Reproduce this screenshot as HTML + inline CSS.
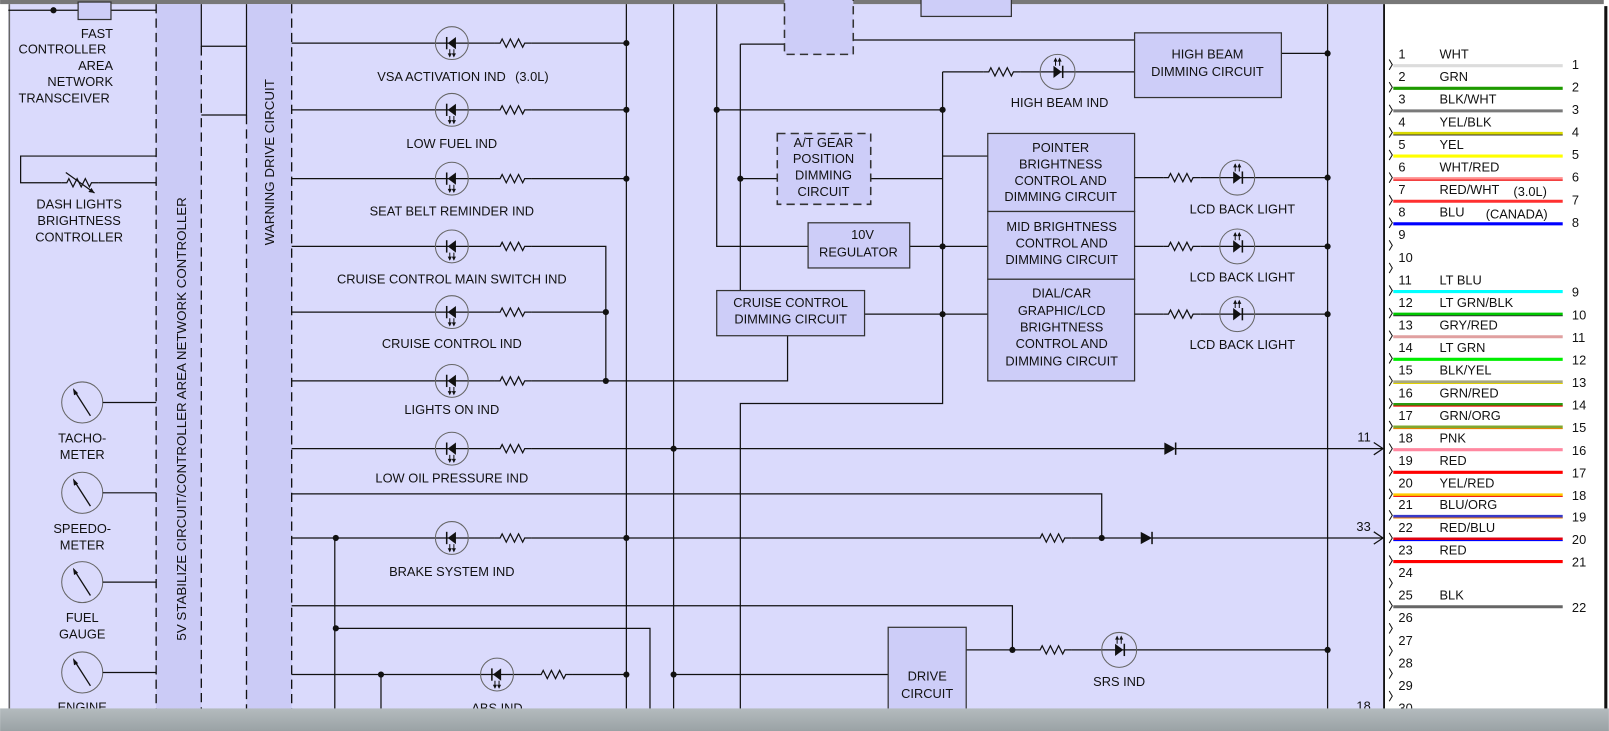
<!DOCTYPE html>
<html><head><meta charset="utf-8"><style>
html,body{margin:0;padding:0;width:1609px;height:731px;overflow:hidden;background:#fff}
svg{display:block}
text{font-family:"Liberation Sans",Arial,sans-serif;font-size:12.5px;fill:#111}
.c{text-anchor:middle}
.e{text-anchor:end}
.l{stroke:#111;stroke-width:1.2;fill:none}
.g{stroke:#555;stroke-width:1.6;fill:none}
.bx{fill:#cdcdf8;stroke:#333;stroke-width:1.2}
.dbx{fill:#cdcdf8;stroke:#333;stroke-width:1.5;stroke-dasharray:8,5}
.dl{stroke:#111;stroke-width:1.3;stroke-dasharray:9,5;fill:none}
</style></head><body>
<svg width="1609" height="731" viewBox="0 0 1567 712" xmlns="http://www.w3.org/2000/svg">
<defs>
<polyline id="R" points="0,0 5,0 7,-4 11,4 15,-4 19,4 23,-4 27,4 29,0 36,0" fill="none" stroke="#111" stroke-width="1.2"/>
<g id="LL"><circle r="16" fill="none" stroke="#666" stroke-width="1"/><polygon points="-4,0 4,-6 4,6" fill="#111"/><line x1="-5" y1="-6" x2="-5" y2="6" stroke="#111" stroke-width="1.5"/><path d="M-2,6V13M2,6V13" stroke="#111" stroke-width="1"/><path d="M-4,10L-2,14L0,10ZM0,10L2,14L4,10Z" fill="#111"/></g>
<g id="LR"><circle r="17" fill="none" stroke="#666" stroke-width="1"/><polygon points="4,0 -4,-6 -4,6" fill="#111"/><line x1="5" y1="-6" x2="5" y2="6" stroke="#111" stroke-width="1.5"/><path d="M-2,-6V-13M2,-6V-13" stroke="#111" stroke-width="1"/><path d="M-4,-10L-2,-14L0,-10ZM0,-10L2,-14L4,-10Z" fill="#111"/></g>
<g id="D"><polygon points="0,-6 11,0 0,6" fill="#111"/><line x1="11" y1="-6" x2="11" y2="6" stroke="#111" stroke-width="1.5"/></g>
<g id="G"><circle r="20" fill="none" stroke="#666" stroke-width="1"/><line x1="-8" y1="-12" x2="8" y2="13" stroke="#111" stroke-width="1.3"/><polygon points="-9,-14 -4,-9 -8,-7" fill="#111"/></g>
</defs>
<rect x="0" y="0" width="1567" height="712" fill="#fff"/>
<rect x="8" y="4" width="1340" height="690" fill="#dadafc"/>
<rect x="0" y="0" width="1562" height="4" fill="#787878"/>
<line x1="9" y1="4" x2="9" y2="694" stroke="#666" stroke-width="1.5"/>
<rect x="152" y="4" width="44" height="690" fill="#cbcbf6"/>
<rect x="240" y="4" width="44" height="690" fill="#cbcbf6"/>
<path class="dl" d="M152,4V694M196,45V694M240,112V694M284,4V694"/>
<path class="l" d="M196,4V45H240M196,112H240M240,4V112"/>
<text transform="translate(181,408) rotate(-90)" class="c" style="font-size:13px">5V STABILIZE CIRCUIT/CONTROLLER AREA NETWORK CONTROLLER</text>
<text transform="translate(267,158) rotate(-90)" class="c" style="font-size:13px">WARNING DRIVE CIRCUIT</text>
<!-- left area -->
<path class="l" d="M8,10H76M108,10H152"/><circle cx="52" cy="10" r="3" fill="#111"/>
<rect class="bx" x="76" y="2" width="32" height="17"/>
<text x="110" y="37" class="e">FAST</text><text x="18" y="52">CONTROLLER</text><text x="110" y="68" class="e">AREA</text><text x="110" y="84" class="e">NETWORK</text><text x="18" y="100">TRANSCEIVER</text>
<path class="l" d="M152,152H20V178H60M96,178H152"/><use href="#R" x="60" y="178"/><path class="l" d="M64,168L92,188"/><polygon points="92,188 86,187 89,183" fill="#111"/>
<text x="77" y="203" class="c">DASH LIGHTS</text><text x="77" y="219" class="c">BRIGHTNESS</text><text x="77" y="235" class="c">CONTROLLER</text>
<use href="#G" x="80" y="392"/><use href="#G" x="80" y="480"/><use href="#G" x="80" y="567"/><use href="#G" x="80" y="655"/>
<path class="l" d="M100,392H152M100,480H152M100,567H152M100,655H152"/>
<text x="80" y="431" class="c">TACHO-</text><text x="80" y="447" class="c">METER</text>
<text x="80" y="519" class="c">SPEEDO-</text><text x="80" y="535" class="c">METER</text>
<text x="80" y="606" class="c">FUEL</text><text x="80" y="622" class="c">GAUGE</text>
<text x="80" y="693" class="c">ENGINE</text>
<!-- indicator rows -->
<path class="l" d="M284,42H482M518,42H610M284,107H482M518,107H610M284,174H482M518,174H610M284,240H482M518,240H590V371M284,304H482M518,304H590M284,371H482M518,371H767V327M284,437H482M518,437H1134M1145,437H1346M284,481H1073V524M284,524H482M518,524H1008M1044,524H1111M1122,524H1346M284,590H986V633M327,612H633V694M326,524V694M284,657H522M558,657H610M371,657V694M656,657H865"/>
<use href="#R" x="482" y="42"/><use href="#R" x="482" y="107"/><use href="#R" x="482" y="174"/><use href="#R" x="482" y="240"/><use href="#R" x="482" y="304"/><use href="#R" x="482" y="371"/><use href="#R" x="482" y="437"/><use href="#R" x="482" y="524"/><use href="#R" x="522" y="657"/>
<use href="#LL" x="440" y="42"/><use href="#LL" x="440" y="107"/><use href="#LL" x="440" y="174"/><use href="#LL" x="440" y="240"/><use href="#LL" x="440" y="304"/><use href="#LL" x="440" y="371"/><use href="#LL" x="440" y="437"/><use href="#LL" x="440" y="524"/><use href="#LL" x="484" y="657"/>
<text x="430" y="79" class="c">VSA ACTIVATION IND</text><text x="518" y="79" class="c">(3.0L)</text>
<text x="440" y="144" class="c">LOW FUEL IND</text>
<text x="440" y="210" class="c">SEAT BELT REMINDER IND</text>
<text x="440" y="276" class="c">CRUISE CONTROL MAIN SWITCH IND</text>
<text x="440" y="339" class="c">CRUISE CONTROL IND</text>
<text x="440" y="403" class="c">LIGHTS ON IND</text>
<text x="440" y="470" class="c">LOW OIL PRESSURE IND</text>
<text x="440" y="561" class="c">BRAKE SYSTEM IND</text>
<text x="484" y="694" class="c">ABS IND</text>
<use href="#D" x="1134" y="437"/><use href="#D" x="1111" y="524"/><use href="#R" x="1008" y="524"/>
<path d="M1338,431L1347,437L1338,443M1338,518L1347,524L1338,530" class="l"/>
<text x="1335" y="430" class="e">11</text><text x="1335" y="517" class="e">33</text><text x="1335" y="692" class="e">18</text>
<!-- verticals -->
<path class="l" d="M610,4V694M656,4V694M698,4V240H787M721,43V283M721,43H764M831,39H1105M698,107H918M918,70V393H721V694M721,174H757M848,174H918M918,152H962M886,240H962M842,306H962M1293,4V694M918,70H958M994,70H1105M1248,52H1293"/>
<rect class="dbx" x="764" y="-5" width="67" height="58"/>
<rect class="bx" x="897" y="-5" width="88" height="21"/>
<rect class="dbx" x="757" y="130" width="91" height="69"/>
<text x="802" y="143" class="c">A/T GEAR</text><text x="802" y="159" class="c">POSITION</text><text x="802" y="175" class="c">DIMMING</text><text x="802" y="191" class="c">CIRCUIT</text>
<rect class="bx" x="787" y="217" width="99" height="44"/>
<text x="840" y="233" class="c">10V</text><text x="836" y="250" class="c">REGULATOR</text>
<rect class="bx" x="698" y="283" width="144" height="44"/>
<text x="770" y="299" class="c">CRUISE CONTROL</text><text x="770" y="315" class="c">DIMMING CIRCUIT</text>
<rect class="bx" x="962" y="130" width="143" height="76"/>
<text x="1033" y="148" class="c">POINTER</text><text x="1033" y="164" class="c">BRIGHTNESS</text><text x="1033" y="180" class="c">CONTROL AND</text><text x="1033" y="196" class="c">DIMMING CIRCUIT</text>
<rect class="bx" x="962" y="206" width="143" height="66"/>
<text x="1034" y="225" class="c">MID BRIGHTNESS</text><text x="1034" y="241" class="c">CONTROL AND</text><text x="1034" y="257" class="c">DIMMING CIRCUIT</text>
<rect class="bx" x="962" y="272" width="143" height="99"/>
<text x="1034" y="290" class="c">DIAL/CAR</text><text x="1034" y="307" class="c">GRAPHIC/LCD</text><text x="1034" y="323" class="c">BRIGHTNESS</text><text x="1034" y="339" class="c">CONTROL AND</text><text x="1034" y="356" class="c">DIMMING CIRCUIT</text>
<rect class="bx" x="1105" y="32" width="143" height="63"/>
<text x="1176" y="57" class="c">HIGH BEAM</text><text x="1176" y="74" class="c">DIMMING CIRCUIT</text>
<use href="#R" x="958" y="70"/><use href="#LR" x="1030" y="70"/>
<text x="1032" y="104" class="c">HIGH BEAM IND</text>
<path class="l" d="M1105,173H1133M1169,173H1293M1105,240H1133M1169,240H1293M1105,306H1133M1169,306H1293M941,633H1008M1044,633H1293"/>
<use href="#R" x="1133" y="173"/><use href="#R" x="1133" y="240"/><use href="#R" x="1133" y="306"/><use href="#R" x="1008" y="633"/>
<use href="#LR" x="1205" y="173"/><use href="#LR" x="1205" y="240"/><use href="#LR" x="1205" y="306"/><use href="#LR" x="1090" y="633"/>
<text x="1210" y="208" class="c">LCD BACK LIGHT</text><text x="1210" y="274" class="c">LCD BACK LIGHT</text><text x="1210" y="340" class="c">LCD BACK LIGHT</text>
<rect class="bx" x="865" y="611" width="76" height="95"/>
<text x="903" y="663" class="c">DRIVE</text><text x="903" y="680" class="c">CIRCUIT</text>
<text x="1090" y="668" class="c">SRS IND</text>
<g fill="#111">
<circle cx="610" cy="42" r="3"/><circle cx="610" cy="107" r="3"/><circle cx="610" cy="174" r="3"/><circle cx="590" cy="304" r="3"/><circle cx="590" cy="371" r="3"/><circle cx="656" cy="437" r="3"/><circle cx="327" cy="524" r="3"/><circle cx="610" cy="524" r="3"/><circle cx="1073" cy="524" r="3"/><circle cx="327" cy="612" r="3"/><circle cx="986" cy="633" r="3"/><circle cx="371" cy="657" r="3"/><circle cx="610" cy="657" r="3"/><circle cx="656" cy="657" r="3"/>
<circle cx="698" cy="107" r="3"/><circle cx="918" cy="107" r="3"/><circle cx="721" cy="174" r="3"/><circle cx="918" cy="240" r="3"/><circle cx="918" cy="306" r="3"/>
<circle cx="1293" cy="52" r="3"/><circle cx="1293" cy="173" r="3"/><circle cx="1293" cy="240" r="3"/><circle cx="1293" cy="306" r="3"/><circle cx="1293" cy="633" r="3"/>
</g>
<!-- connector -->
<line x1="1348" y1="4" x2="1348" y2="694" stroke="#111" stroke-width="1.8"/>
<line x1="1564" y1="6" x2="1564" y2="712" stroke="#111" stroke-width="3"/>
<g stroke="#111" stroke-width="1" fill="none">
<path d="M1353,58l3,5l-3,5M1353,80l3,5l-3,5M1353,102l3,5l-3,5M1353,124l3,5l-3,5M1353,146l3,5l-3,5M1353,168l3,5l-3,5M1353,190l3,5l-3,5M1353,212l3,5l-3,5M1353,234l3,5l-3,5M1353,256l3,5l-3,5M1353,278l3,5l-3,5M1353,300l3,5l-3,5M1353,322l3,5l-3,5M1353,344l3,5l-3,5M1353,366l3,5l-3,5M1353,388l3,5l-3,5M1353,410l3,5l-3,5M1353,432l3,5l-3,5M1353,454l3,5l-3,5M1353,476l3,5l-3,5M1353,497l3,5l-3,5M1353,519l3,5l-3,5M1353,541l3,5l-3,5M1353,563l3,5l-3,5M1353,585l3,5l-3,5M1353,607l3,5l-3,5M1353,629l3,5l-3,5M1353,651l3,5l-3,5M1353,673l3,5l-3,5M1353,695l3,5l-3,5"/>
</g>
<g stroke-width="3">
<line x1="1357" y1="64" x2="1522" y2="64" stroke="#dcdcdc"/>
<line x1="1357" y1="86" x2="1522" y2="86" stroke="#1e9a00"/>
<line x1="1357" y1="108" x2="1522" y2="108" stroke="#7a7a7a"/>
<line x1="1357" y1="130" x2="1522" y2="130" stroke="#d8d800"/>
<line x1="1357" y1="152" x2="1522" y2="152" stroke="#ffff00"/>
<line x1="1357" y1="174" x2="1522" y2="174" stroke="#ff9090"/>
<line x1="1357" y1="196" x2="1522" y2="196" stroke="#ff3030"/>
<line x1="1357" y1="218" x2="1522" y2="218" stroke="#0000ff"/>
<line x1="1357" y1="284" x2="1522" y2="284" stroke="#00ffff"/>
<line x1="1357" y1="306" x2="1522" y2="306" stroke="#00c800"/>
<line x1="1357" y1="328" x2="1522" y2="328" stroke="#e0a0a0"/>
<line x1="1357" y1="350" x2="1522" y2="350" stroke="#00ee00"/>
<line x1="1357" y1="372" x2="1522" y2="372" stroke="#a8a880"/>
<line x1="1357" y1="394" x2="1522" y2="394" stroke="#2a9a10"/>
<line x1="1357" y1="416" x2="1522" y2="416" stroke="#80a830"/>
<line x1="1357" y1="438" x2="1522" y2="438" stroke="#ff88a0"/>
<line x1="1357" y1="460" x2="1522" y2="460" stroke="#ff0000"/>
<line x1="1357" y1="482" x2="1522" y2="482" stroke="#ffcc00"/>
<line x1="1357" y1="503" x2="1522" y2="503" stroke="#3a3ac8"/>
<line x1="1357" y1="525" x2="1522" y2="525" stroke="#e00010"/>
<line x1="1357" y1="547" x2="1522" y2="547" stroke="#ff0000"/>
<line x1="1357" y1="591" x2="1522" y2="591" stroke="#666"/>
</g>
<g stroke-width="1">
<line x1="1357" y1="131.5" x2="1522" y2="131.5" stroke="#333"/>
<line x1="1357" y1="175.5" x2="1522" y2="175.5" stroke="#e00"/>
<line x1="1357" y1="307.5" x2="1522" y2="307.5" stroke="#333"/>
<line x1="1357" y1="373.5" x2="1522" y2="373.5" stroke="#e0d000"/>
<line x1="1357" y1="395.5" x2="1522" y2="395.5" stroke="#e00"/>
<line x1="1357" y1="417.5" x2="1522" y2="417.5" stroke="#f08000"/>
<line x1="1357" y1="483.5" x2="1522" y2="483.5" stroke="#e00"/>
<line x1="1357" y1="504.5" x2="1522" y2="504.5" stroke="#f08000"/>
<line x1="1357" y1="526.5" x2="1522" y2="526.5" stroke="#00f"/>
</g>
<g>
<text x="1362" y="57">1</text><text x="1362" y="79">2</text><text x="1362" y="101">3</text><text x="1362" y="123">4</text><text x="1362" y="145">5</text><text x="1362" y="167">6</text><text x="1362" y="189">7</text><text x="1362" y="211">8</text><text x="1362" y="233">9</text><text x="1362" y="255">10</text><text x="1362" y="277">11</text><text x="1362" y="299">12</text><text x="1362" y="321">13</text><text x="1362" y="343">14</text><text x="1362" y="365">15</text><text x="1362" y="387">16</text><text x="1362" y="409">17</text><text x="1362" y="431">18</text><text x="1362" y="453">19</text><text x="1362" y="475">20</text><text x="1362" y="496">21</text><text x="1362" y="518">22</text><text x="1362" y="540">23</text><text x="1362" y="562">24</text><text x="1362" y="584">25</text><text x="1362" y="606">26</text><text x="1362" y="628">27</text><text x="1362" y="650">28</text><text x="1362" y="672">29</text><text x="1362" y="694">30</text>
<text x="1402" y="57">WHT</text><text x="1402" y="79">GRN</text><text x="1402" y="101">BLK/WHT</text><text x="1402" y="123">YEL/BLK</text><text x="1402" y="145">YEL</text><text x="1402" y="167">WHT/RED</text><text x="1402" y="189">RED/WHT</text><text x="1474" y="191">(3.0L)</text><text x="1402" y="211">BLU</text><text x="1447" y="213">(CANADA)</text>
<text x="1402" y="277">LT BLU</text><text x="1402" y="299">LT GRN/BLK</text><text x="1402" y="321">GRY/RED</text><text x="1402" y="343">LT GRN</text><text x="1402" y="365">BLK/YEL</text><text x="1402" y="387">GRN/RED</text><text x="1402" y="409">GRN/ORG</text><text x="1402" y="431">PNK</text><text x="1402" y="453">RED</text><text x="1402" y="475">YEL/RED</text><text x="1402" y="496">BLU/ORG</text><text x="1402" y="518">RED/BLU</text><text x="1402" y="540">RED</text><text x="1402" y="584">BLK</text>
<text x="1531" y="67">1</text><text x="1531" y="89">2</text><text x="1531" y="111">3</text><text x="1531" y="133">4</text><text x="1531" y="155">5</text><text x="1531" y="177">6</text><text x="1531" y="199">7</text><text x="1531" y="221">8</text>
<text x="1531" y="289">9</text><text x="1531" y="311">10</text><text x="1531" y="333">11</text><text x="1531" y="355">12</text><text x="1531" y="377">13</text><text x="1531" y="399">14</text><text x="1531" y="421">15</text><text x="1531" y="443">16</text><text x="1531" y="465">17</text><text x="1531" y="487">18</text><text x="1531" y="508">19</text><text x="1531" y="530">20</text><text x="1531" y="552">21</text><text x="1531" y="596">22</text>
</g>
<defs><linearGradient id="bg" x1="0" y1="0" x2="0" y2="1"><stop offset="0" stop-color="#b4bbbe"/><stop offset="1" stop-color="#9aa2a5"/></linearGradient></defs>
<rect x="0" y="690" width="1567" height="22" fill="url(#bg)"/>
</svg>
</body></html>
